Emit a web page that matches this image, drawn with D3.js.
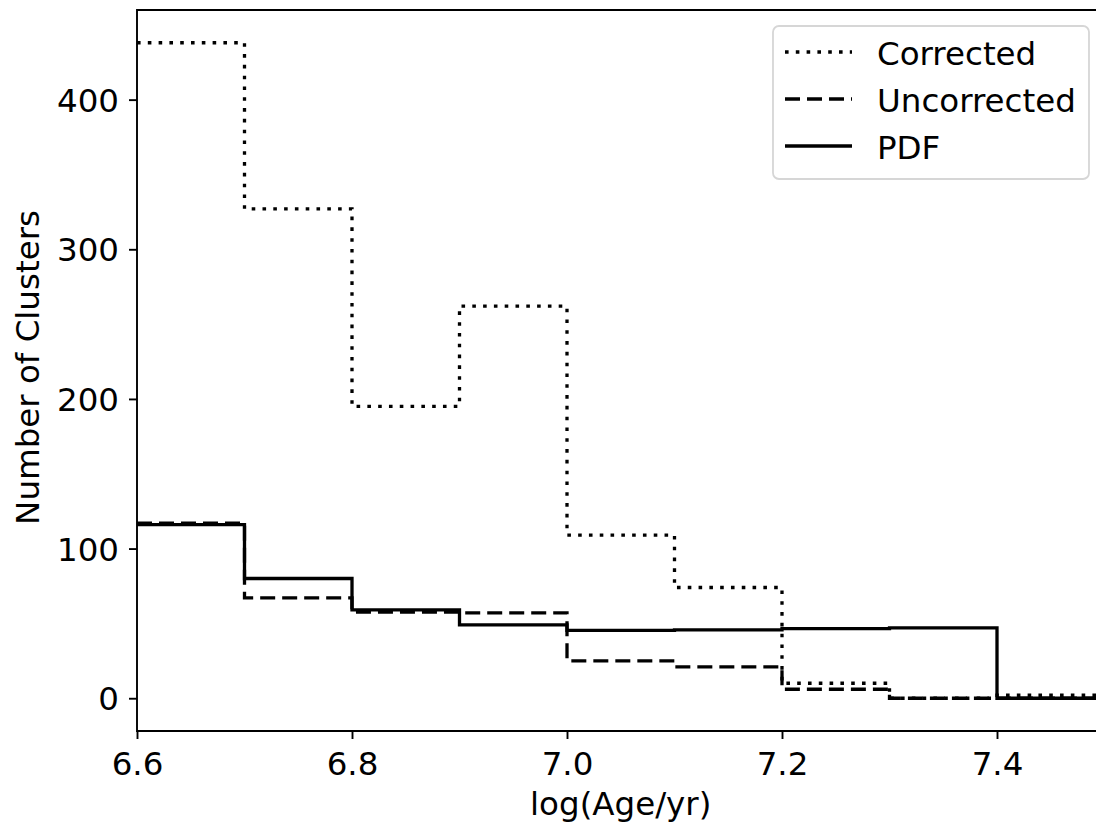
<!DOCTYPE html>
<html>
<head>
<meta charset="utf-8">
<script src="https://cdn.jsdelivr.net/npm/d3@7"></script>
<style>
  html, body { margin: 0; padding: 0; background: #fff; }
  svg { display: block; font-family: "DejaVu Sans", sans-serif; }
</style>
</head>
<body>
<svg id="chart" width="1096" height="827"></svg>
<script>
// Bin left edges (log Age/yr), bin width 0.1
const binEdges = [6.6, 6.7, 6.8, 6.9, 7.0, 7.1, 7.2, 7.3, 7.4, 7.5];
const corrected   = [438, 327, 195, 262, 109, 74, 10, 0, 2];
const uncorrected = [117, 67, 57.5, 57, 25, 21, 6, 0, 0];
const pdf         = [116, 80, 59, 49, 45.4, 45.7, 46.5, 47, 0];
const xTicks = [6.6, 6.8, 7.0, 7.2, 7.4];
const yTicks = [0, 100, 200, 300, 400];
const seriesNames = ["Corrected", "Uncorrected", "PDF"];

(function () {
const svg = d3.select("#chart");
const pL = 137, pR = 1104.5, pT = 10, pB = 731;
const FS = 32.5;

const x = d3.scaleLinear().domain([6.6, 7.5]).range([pL, pR]);
const y = d3.scaleLinear().domain([-21.9, 459.9]).range([pB, pT]);

svg.append("rect").attr("width", 1096).attr("height", 827).attr("fill", "#fff");

svg.append("defs").append("clipPath").attr("id", "plotclip")
  .append("rect").attr("x", pL).attr("y", pT)
  .attr("width", pR - pL).attr("height", pB - pT);

const styles = [
  { dash: "3.6,7.2" },
  { dash: "15,7" },
  { dash: null }
];
const allSeries = [corrected, uncorrected, pdf];

const line = d3.line().x(d => x(d[0])).y(d => y(d[1])).curve(d3.curveStepAfter);
const g = svg.append("g").attr("clip-path", "url(#plotclip)");
allSeries.forEach((vals, i) => {
  const pts = vals.map((v, j) => [binEdges[j], v]);
  pts.push([binEdges[vals.length], vals[vals.length - 1]]);
  pts.push([binEdges[vals.length], 0]);
  const p = g.append("path")
    .attr("d", line(pts))
    .attr("fill", "none")
    .attr("stroke", "#000")
    .attr("stroke-width", 3.3)
    .attr("stroke-linecap", "butt")
    .attr("stroke-linejoin", "miter");
  if (styles[i].dash) p.attr("stroke-dasharray", styles[i].dash);
});

// Axes
const xAxis = d3.axisBottom(x).tickValues(xTicks).tickFormat(d3.format(".1f")).tickSize(8).tickPadding(8);
const yAxis = d3.axisLeft(y).tickValues(yTicks).tickFormat(d3.format("d")).tickSize(8).tickPadding(8);

const gx = svg.append("g").attr("transform", `translate(0,${pB})`).call(xAxis);
const gy = svg.append("g").attr("transform", `translate(${pL},0)`).call(yAxis);
[gx, gy].forEach(ax => {
  ax.select(".domain").remove();
  ax.selectAll(".tick line").attr("stroke", "#000").attr("stroke-width", 1.9);
  ax.selectAll(".tick text").attr("fill", "#000").attr("font-size", FS)
    .attr("font-family", "DejaVu Sans");
});
gx.selectAll(".tick text").attr("dy", null).attr("y", 44);
gy.selectAll(".tick text").attr("dy", "0.36em").attr("x", -18);

// Spines (left, top, bottom; right is off-canvas)
svg.append("path")
  .attr("d", `M${pR},${pT}H${pL}V${pB}H${pR}V${pT}`)
  .attr("fill", "none").attr("stroke", "#000").attr("stroke-width", 1.9);

// Axis labels
svg.append("text").attr("x", (pL + pR) / 2).attr("y", 815)
  .attr("text-anchor", "middle").attr("font-size", FS).attr("fill", "#000")
  .text("log(Age/yr)");
svg.append("text").attr("transform", `translate(39,${(pT + pB) / 2 - 3}) rotate(-90)`)
  .attr("text-anchor", "middle").attr("font-size", FS).attr("fill", "#000")
  .text("Number of Clusters");

// Legend
const lg = svg.append("g");
lg.append("rect").attr("x", 773).attr("y", 26).attr("width", 316).attr("height", 153)
  .attr("rx", 6).attr("ry", 6)
  .attr("fill", "#fff").attr("fill-opacity", 0.8)
  .attr("stroke", "#d6d6d6").attr("stroke-width", 1.8);
seriesNames.forEach((name, i) => {
  const ly = 52 + i * 47;
  const l = lg.append("line").attr("x1", 785).attr("x2", 852).attr("y1", ly).attr("y2", ly)
    .attr("stroke", "#000").attr("stroke-width", 3.3);
  if (styles[i].dash) l.attr("stroke-dasharray", styles[i].dash);
  lg.append("text").attr("x", 877).attr("y", ly + 1).attr("dy", "0.36em")
    .attr("font-size", FS).attr("fill", "#000").text(name);
});
})();
</script>
</body>
</html>
